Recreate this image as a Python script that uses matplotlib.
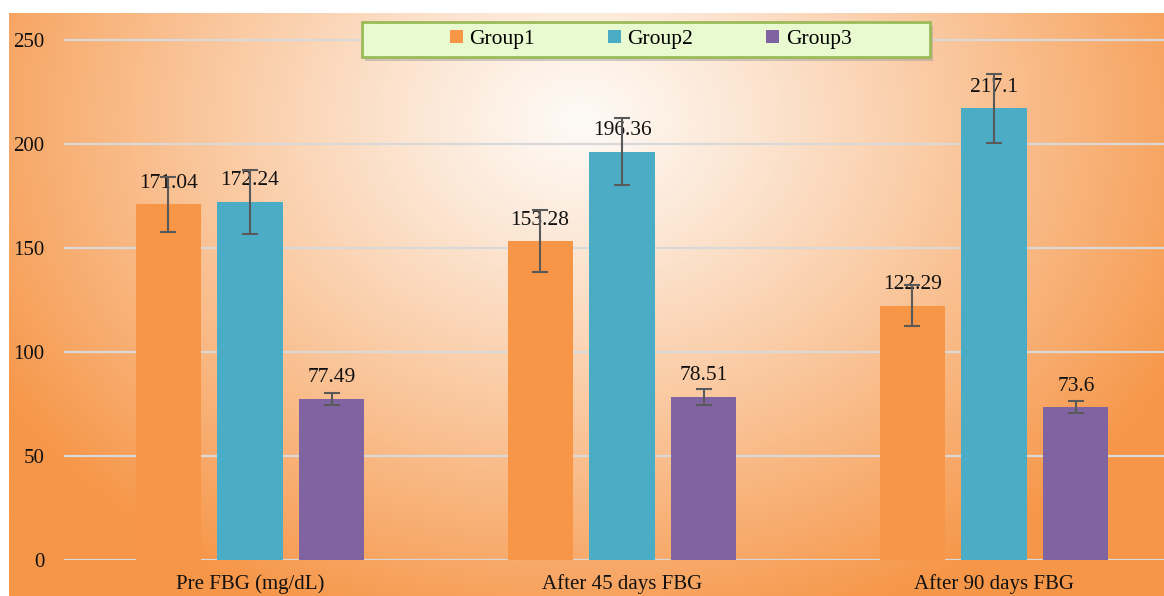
import numpy as np
import matplotlib
matplotlib.use("Agg")
import matplotlib.pyplot as plt
from matplotlib.patches import Patch, FancyBboxPatch

categories = ["Pre FBG (mg/dL)", "After 45 days FBG", "After 90 days FBG"]
series_names = ["Group1", "Group2", "Group3"]
group1 = [171.04, 153.28, 122.29]
group2 = [172.24, 196.36, 217.1]
group3 = [77.49, 78.51, 73.6]
group1_err = [13.2, 15.0, 10.0]
group2_err = [15.5, 16.0, 16.5]
group3_err = [3.0, 3.8, 3.0]
yticks = [0, 50, 100, 150, 200, 250]

colors = ["#F79646", "#4BACC6", "#8064A2"]

plt.rcParams['font.family'] = ['Liberation Serif', 'DejaVu Serif']

W, H = 1164, 596
fig = plt.figure(figsize=(W / 100, H / 100), dpi=100)
fig.patch.set_facecolor('white')

# background gradient
bg = fig.add_axes([9 / W, 0, 1 - 9 / W, (H - 13) / H])
bg.set_axis_off()
nx, ny = 400, 220
xs = np.linspace(9, W, nx)
ys = np.linspace(13, H, ny)
X, Y = np.meshgrid(xs, ys)
cx, cy = 580, 120
d = np.sqrt(((X - cx) / 680) ** 2 + ((Y - cy) / 540) ** 2)
t = np.clip(d, 0, 1) ** 1.15
c0 = np.array([254, 250, 246]) / 255
c1 = np.array([246, 150, 72]) / 255
img = c0[None, None, :] * (1 - t[..., None]) + c1[None, None, :] * t[..., None]
bg.imshow(img, aspect='auto', extent=[0, 1, 0, 1], origin='upper')
bg.set_xlim(0, 1)
bg.set_ylim(0, 1)

# main axes
left_px, right_px = 64, W
y0_px, y250_px = 560, 40
ppu = (y0_px - y250_px) / 250
top_px = 14
ax = fig.add_axes([left_px / W, (H - y0_px) / H, (right_px - left_px) / W,
                   (y0_px - top_px) / H])
ax.patch.set_alpha(0)
ax.set_ylim(0, (y0_px - top_px) / ppu)
cat_px = 372
ax.set_xlim(-0.5, -0.5 + (right_px - left_px) / cat_px)

x = np.arange(len(categories))
width = 0.175
offset = 0.22
for i, (vals, errs) in enumerate(zip([group1, group2, group3],
                                     [group1_err, group2_err, group3_err])):
    pos = x + (i - 1) * offset
    ax.bar(pos, vals, width, color=colors[i], zorder=2, label=series_names[i])
    ax.errorbar(pos, vals, yerr=errs, fmt='none', ecolor='#595959',
                elinewidth=1.5, capsize=5.5, capthick=1.5, zorder=4)
    for p, v in zip(pos, vals):
        ax.annotate(f"{v:g}", (p, v), xytext=(0, 15), textcoords='offset points',
                    ha='center', va='center', fontsize=15.5, color='#111111',
                    zorder=3)

ax.set_yticks(yticks)
ax.set_yticklabels([str(v) for v in yticks])
ax.yaxis.grid(True, color='#d9d9d9', linewidth=1.6, zorder=0)
ax.set_axisbelow(True)
ax.set_xticks(x)
ax.set_xticklabels(categories)
ax.tick_params(axis='both', length=0, labelsize=15, colors='#111111')
ax.tick_params(axis='y', pad=14)
ax.tick_params(axis='x', pad=10)
for s in ax.spines.values():
    s.set_visible(False)

# legend box
bx0, by0, bx1, by1 = 362, 22, 930, 57
shadow = FancyBboxPatch(((bx0 + 3) / W, (H - by1 - 4) / H), (bx1 - bx0) / W,
                        (by1 - by0) / H, boxstyle='square,pad=0',
                        transform=fig.transFigure, facecolor='#999999',
                        alpha=0.45, edgecolor='none', zorder=5)
fig.patches.append(shadow)
box = FancyBboxPatch((bx0 / W, (H - by1) / H), (bx1 - bx0) / W, (by1 - by0) / H,
                     boxstyle='square,pad=0', transform=fig.transFigure,
                     facecolor='#eafad0', edgecolor='#9bbb59', linewidth=2,
                     zorder=6)
fig.patches.append(box)
handles = [Patch(facecolor=c, edgecolor='none') for c in colors]
leg = fig.legend(handles, series_names, loc='center',
                 bbox_to_anchor=((bx0 + bx1) / 2 / W + 0.004, (H - (by0 + by1) / 2) / H),
                 ncol=3, frameon=False, fontsize=15.5, handlelength=0.6,
                 handleheight=0.6, handletextpad=0.3, columnspacing=3.4)
leg.set_zorder(7)

fig.savefig("out.png", dpi=100)
